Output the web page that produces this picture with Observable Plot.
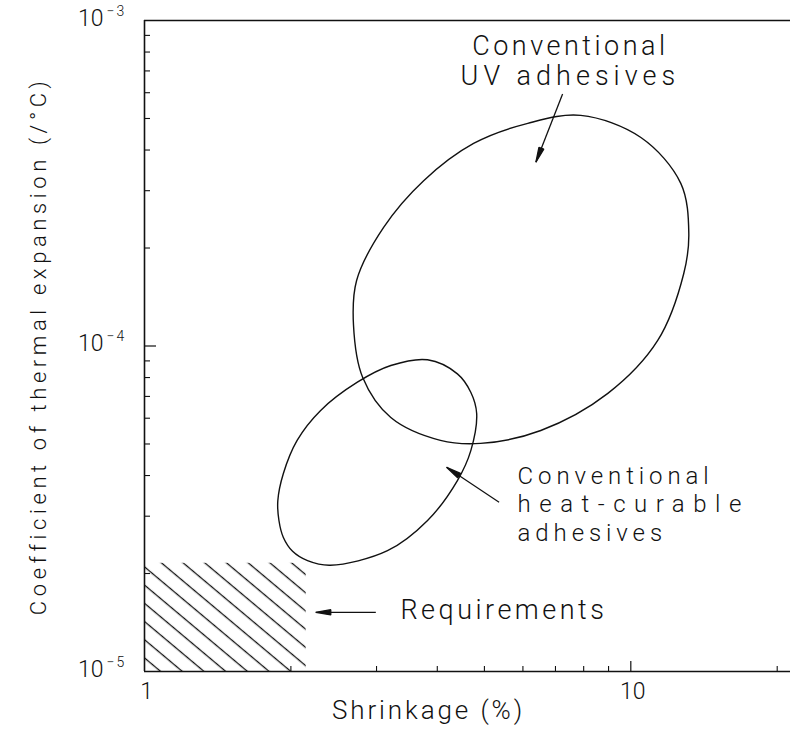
<!DOCTYPE html>
<html>
<head>
<meta charset="utf-8">
<script src="https://cdn.jsdelivr.net/npm/d3@7"></script>
<script src="https://cdn.jsdelivr.net/npm/@observablehq/plot@0.6"></script>
<style>
  html, body { margin: 0; padding: 0; background: white; overflow: hidden; }
  #chart svg { display: block; }
</style>
</head>
<body>
<div id="chart"></div>
<script>
// ---- data ----
const xDomain = [1, 21.3];          // shrinkage (%)
const yDomain = [1e-5, 1e-3];       // CTE (/°C)

const xMajorTicks = [1, 10];
const xTickLabels = ["1", "10"];
const xMinorTicks = [2, 3, 4, 5, 6, 7, 8, 9, 20];

const yMajorTicks = [1e-3, 1e-4, 1e-5];
const yTickBase = ["10", "10", "10"];
const yTickExp = ["\u22123", "\u22124", "\u22125"];
const yMinorTicks = [2e-5, 3e-5, 4e-5, 5e-5, 6e-5, 7e-5, 8e-5, 9e-5,
                     2e-4, 3e-4, 4e-4, 5e-4, 6e-4, 7e-4, 8e-4, 9e-4];

// Conventional UV adhesives region (boundary points)
const uvShrinkage = [7.89, 10.49, 12.67, 13.16, 12.85, 11.36, 8.97, 6.53, 4.91, 4.06, 3.21, 2.81, 2.69, 2.73, 3.10, 3.75, 4.75, 6.14];
const uvCTE = [5.11e-4, 4.37e-4, 3.16e-4, 2.22e-4, 1.67e-4, 1.04e-4, 7.15e-5, 5.50e-5, 5.02e-5, 5.13e-5, 6.03e-5, 8.00e-5, 1.16e-4, 1.59e-4, 2.31e-4, 3.22e-4, 4.19e-4, 4.83e-4];

// Conventional heat-curable adhesives region (boundary points)
const heatShrinkage = [3.82, 4.40, 4.69, 4.82, 4.69, 4.40, 3.82, 3.16, 2.41, 2.164, 2.016, 1.93, 1.89, 1.88, 1.93, 2.06, 2.30, 2.74, 3.21];
const heatCTE = [9.07e-5, 8.21e-5, 7.20e-5, 6.20e-5, 4.78e-5, 3.86e-5, 2.91e-5, 2.35e-5, 2.12e-5, 2.19e-5, 2.34e-5, 2.58e-5, 2.91e-5, 3.35e-5, 4.06e-5, 5.13e-5, 6.33e-5, 7.74e-5, 8.71e-5];

// Requirements region
const reqShrinkage = [1, 2.15];
const reqCTE = [1e-5, 2.15e-5];

// Annotation arrows
const arrowStartShrinkage = [7.24, 5.36, 2.99];
const arrowStartCTE = [5.95e-4, 3.31e-5, 1.52e-5];
const arrowEndShrinkage = [6.38, 4.18, 2.25];
const arrowEndCTE = [3.67e-4, 4.24e-5, 1.52e-5];

// Annotation labels
const labelText = ["Conventional\nUV adhesives", "Conventional\nheat-curable\nadhesives", "Requirements"];
const labelShrinkage = [7.44, 5.85, 3.36];
const labelCTE = [7.54e-4, 3.29e-5, 1.54e-5];

const xTitle = "Shrinkage (%)";
const yTitle = "Coefficient of thermal expansion (/\u00B0C)";

// ---- build tables ----
const uv = uvShrinkage.map((x, i) => ({x, y: uvCTE[i]}));
const heat = heatShrinkage.map((x, i) => ({x, y: heatCTE[i]}));
const req = [{x1: reqShrinkage[0], x2: reqShrinkage[1], y1: reqCTE[0], y2: reqCTE[1]}];
const arrows = arrowStartShrinkage.map((x1, i) => ({x1, y1: arrowStartCTE[i], x2: arrowEndShrinkage[i], y2: arrowEndCTE[i]}));
const labels = labelText.map((t, i) => ({t, x: labelShrinkage[i], y: labelCTE[i]}));

const ink = "#111";
const FONT = "Roboto, 'Liberation Sans', sans-serif";
const FW = 300;

function arrowHead(color) {
  return d3.create("svg:marker")
    .attr("viewBox", "-18 -4 20 8")
    .attr("markerWidth", 20)
    .attr("markerHeight", 8)
    .attr("markerUnits", "userSpaceOnUse")
    .attr("orient", "auto")
    .attr("overflow", "visible")
    .call(m => m.append("path").attr("d", "M0,0L-15,-2.6L-15,2.6Z").attr("fill", color))
    .node();
}

const W = 790, H = 736, ML = 144, MT = 20, MB = 65, MR = 0;
const frameW = W - ML - MR, frameH = H - MT - MB;

const plot = Plot.plot({
  width: W, height: H,
  marginLeft: ML, marginRight: MR, marginTop: MT, marginBottom: MB,
  x: {type: "log", domain: xDomain, axis: null},
  y: {type: "log", domain: yDomain, axis: null},
  style: {fontFamily: FONT, color: ink, background: "white", overflow: "visible"},
  marks: [
    // hatched requirements box
    Plot.rect(req, {x1: "x1", x2: "x2", y1: "y1", y2: "y2", fill: "url(#hatch)"}),
    // frame lines
    Plot.ruleY([yDomain[1]], {stroke: ink, strokeWidth: 1.6}),
    Plot.ruleY([yDomain[0]], {stroke: ink, strokeWidth: 1.6}),
    Plot.ruleX([xDomain[0]], {stroke: ink, strokeWidth: 1.6}),
    // ticks (inward)
    Plot.ruleX(xMinorTicks, {stroke: ink, strokeWidth: 1.1, insetTop: frameH - 5}),
    Plot.ruleX([xMajorTicks[1]], {stroke: ink, strokeWidth: 1.2, insetTop: frameH - 10}),
    Plot.ruleY(yMinorTicks, {stroke: ink, strokeWidth: 1.1, insetRight: frameW - 6}),
    Plot.ruleY([yMajorTicks[1]], {stroke: ink, strokeWidth: 1.2, insetRight: frameW - 12}),
    // tick labels
    Plot.text(xMajorTicks, {x: d => d, text: (d, i) => xTickLabels[i], frameAnchor: "bottom", textAnchor: "middle", dx: 2, dy: 27, fontSize: 23, fontWeight: FW, fill: ink}),
    Plot.text(yMajorTicks, {y: d => d, text: (d, i) => yTickBase[i], frameAnchor: "left", textAnchor: "end", dx: -41, dy: -2, fontSize: 23, fontWeight: FW, fill: ink}),
    Plot.text(yMajorTicks, {y: d => d, text: (d, i) => yTickExp[i], frameAnchor: "left", textAnchor: "start", dx: -38, dy: -9, fontSize: 14, fontWeight: FW, fill: ink}),
    // regions
    Plot.line(uv, {x: "x", y: "y", curve: "catmull-rom-closed", stroke: ink, strokeWidth: 1.4}),
    Plot.line(heat, {x: "x", y: "y", curve: "catmull-rom-closed", stroke: ink, strokeWidth: 1.4}),
    // arrows
    Plot.link(arrows, {x1: "x1", y1: "y1", x2: "x2", y2: "y2", stroke: ink, strokeWidth: 1.3, markerEnd: arrowHead}),
    // annotations
    Plot.text(labels.slice(0, 1), {x: "x", y: "y", text: "t", textAnchor: "middle", dx: 2, lineHeight: 1.11, fontSize: 27, fontWeight: FW, fill: ink}),
    Plot.text(labels.slice(1, 2), {x: "x", y: "y", text: "t", textAnchor: "start", lineHeight: 1.19, fontSize: 24, fontWeight: FW, fill: ink}),
    Plot.text(labels.slice(2), {x: "x", y: "y", text: "t", textAnchor: "start", fontSize: 27, fontWeight: FW, fill: ink}),
    // axis titles
    Plot.text([xTitle], {frameAnchor: "bottom", textAnchor: "middle", dx: -39, dy: 47, fontSize: 26, fontWeight: FW, fill: ink}),
    Plot.text([yTitle], {frameAnchor: "left", textAnchor: "middle", dx: -106, rotate: -90, fontSize: 22, fontWeight: FW, fill: ink})
  ]
});

// letter spacing to mimic the wide technical lettering
const spacing = [
  [/heat-curable/, "4.9px"],
  [/UV adhesives/, "3.5px"],
  [/Requirements/, "3.5px"],
  [/Shrinkage/, "2.9px"],
  [/Coefficient/, "4.6px"],
  [/^\u2212/, "2px"]
];
d3.select(plot).selectAll("text").each(function () {
  const s = this.textContent;
  for (const [re, ls] of spacing) if (re.test(s)) { this.style.letterSpacing = ls; break; }
});
const lineSpacing = [[/^heat-curable$/, "8.5px"], [/^UV adhesives$/, "5px"]];
d3.select(plot).selectAll("tspan").each(function () {
  const s = this.textContent;
  for (const [re, ls] of lineSpacing) if (re.test(s)) { this.style.letterSpacing = ls; break; }
});

// hatch pattern definition
const defs = d3.select(plot).insert("defs", ":first-child");
const pat = defs.append("pattern")
  .attr("id", "hatch")
  .attr("patternUnits", "userSpaceOnUse")
  .attr("width", 20)
  .attr("height", 13.95)
  .attr("patternTransform", "rotate(40)");
pat.append("line")
  .attr("x1", -1).attr("x2", 21)
  .attr("y1", 6.55).attr("y2", 6.55)
  .attr("stroke", ink).attr("stroke-width", 1.3);

document.getElementById("chart").appendChild(plot);
</script>
</body>
</html>
